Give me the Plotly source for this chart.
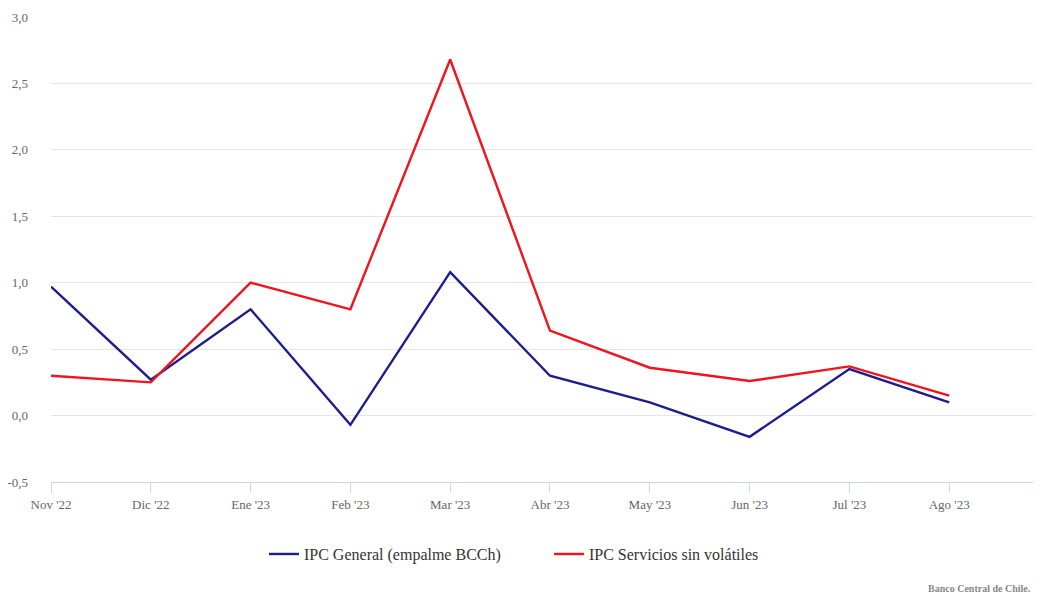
import plotly.graph_objects as go

months = ["Nov '22", "Dic '22", "Ene '23", "Feb '23", "Mar '23", "Abr '23", "May '23", "Jun '23", "Jul '23", "Ago '23"]
ipc_general = [0.97, 0.27, 0.80, -0.07, 1.08, 0.30, 0.10, -0.16, 0.35, 0.10]
ipc_servicios = [0.30, 0.25, 1.00, 0.80, 2.68, 0.64, 0.36, 0.26, 0.37, 0.15]
y_ticks = [-0.5, 0.0, 0.5, 1.0, 1.5, 2.0, 2.5, 3.0]
y_labels = [f"{v:.1f}".replace(".", ",") for v in y_ticks]

SERIF = "Times New Roman, Liberation Serif, DejaVu Serif, serif"

fig = go.Figure()
fig.add_trace(go.Scatter(x=months, y=ipc_general, mode="lines", name="IPC General (empalme BCCh)",
                         line=dict(color="#1c1c8f", width=2.4)))
fig.add_trace(go.Scatter(x=months, y=ipc_servicios, mode="lines", name="IPC Servicios sin volátiles",
                         line=dict(color="#f0141e", width=2.4)))

fig.update_layout(
    width=1033, height=589,
    margin=dict(l=43, r=0, t=9, b=115),
    paper_bgcolor="white", plot_bgcolor="white",
    font=dict(family=SERIF, color="#555555"),
    showlegend=True,
    legend=dict(orientation="h", x=0.503, xanchor="center", y=-0.155, yanchor="middle",
                font=dict(size=16, color="#333333", family=SERIF), itemwidth=30, tracegroupgap=0,
                entrywidthmode="pixels", entrywidth=240),
    xaxis=dict(type="category", range=[0, 9.92], showgrid=False, showline=True,
               linecolor="#ccd6eb", linewidth=1, ticks="outside", ticklen=10, tickcolor="#ccd6eb",
               tickfont=dict(size=13, color="#666666", family=SERIF), zeroline=False, fixedrange=True),
    yaxis=dict(range=[-0.5, 3.0], tickvals=y_ticks, ticktext=y_labels, showgrid=True,
               gridcolor="#e6e6e6", gridwidth=1, zeroline=False, ticks="", ticklabelstandoff=22,
               tickfont=dict(size=13, color="#666666", family=SERIF)),
)
fig.add_annotation(text="<b>Banco Central de Chile.</b>", xref="paper", yref="paper", x=1, y=0,
                   xanchor="right", yanchor="middle", yshift=-106, xshift=-8, showarrow=False,
                   font=dict(size=10, color="#888888", family=SERIF))
fig.write_html("out.html")
